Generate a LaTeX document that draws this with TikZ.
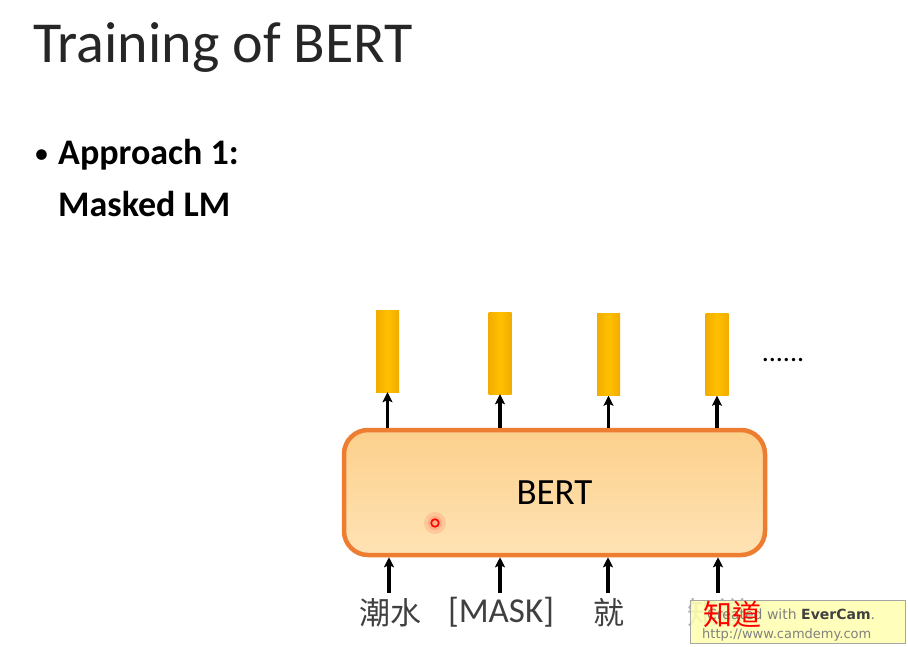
\documentclass[tikz,border=0pt]{standalone}
\usepackage{fontspec}
\setmainfont{Carlito}
\newfontfamily\cjk{Noto Sans CJK TC}
\newfontfamily\wmfont{DejaVu Sans}
\usetikzlibrary{arrows.meta}
\definecolor{barY}{HTML}{FFC000}
\definecolor{barD}{HTML}{F2AC00}
\definecolor{bertEdge}{HTML}{ED7D31}
\definecolor{bertTop}{HTML}{FCD08C}
\definecolor{bertBot}{HTML}{FFE3B5}
\definecolor{txtG}{HTML}{404040}
\definecolor{wmY}{HTML}{FFFFB0}
\tikzset{
  bar/.style={minimum width=23pt, minimum height=82pt, inner sep=0pt,
    left color=barD, right color=barD, middle color=barY},
  bertbox/.style={minimum width=421pt, minimum height=125pt, rounded corners=24pt,
    draw=bertEdge, line width=4.5pt, top color=bertTop, bottom color=bertBot,
    font=\fontsize{37}{38}\selectfont, text=black},
  myarrow/.style={draw=black, line width=3.4pt, -{Stealth[length=10pt,width=10pt,inset=2pt]}},
  lab/.style={text=txtG, inner sep=0pt, anchor=center},
}
\begin{document}
\begin{tikzpicture}[x=1pt,y=-1pt]
\useasboundingbox[fill=white] (0,0) rectangle (908,646);
% title
\node[anchor=base west, inner sep=0pt, text=black!85, font=\fontsize{58}{60}\selectfont] (title) at (33,62) {Training of BERT};
\node[anchor=base west, inner sep=0pt, font=\fontsize{30}{36}\selectfont] (bul) at (34,163) {•};
\node[anchor=base west, inner sep=0pt, font=\bfseries\fontsize{36}{38}\selectfont] (appr) at (58,164) {Approach 1:};
\node[anchor=base west, inner sep=0pt, font=\bfseries\fontsize{36}{38}\selectfont] (mlm) at (58,216) {Masked LM};
% bars
\node[bar] (o1) at (387.5,351) {};
\node[bar] (o2) at (500,353) {};
\node[bar] (o3) at (608.5,354.5) {};
\node[bar] (o4) at (717,354.5) {};
\node[inner sep=0pt, font=\fontsize{28}{28}\selectfont] (dots) at (783,360) {......};
% BERT
\node[bertbox] (bert) at (554.5,492.5) {BERT};
% red pointer
\fill[red, opacity=0.10] (435,523) circle (11);
\fill[red, opacity=0.12] (435,523) circle (7);
\draw[red, line width=1.6pt] (435,523) circle (3.8);
% inputs
\node[lab, font=\cjk\fontsize{31}{31}\selectfont] (i1) at (390,613) {潮水};
\node[lab, font=\fontsize{35}{35}\selectfont] (i2) at (501,612) {[MASK]};
\node[lab, font=\cjk\fontsize{31}{31}\selectfont] (i3) at (609,613) {就};
\node[lab, font=\cjk\fontsize{31}{31}\selectfont, text=gray!60] (i4) at (718,613) {知道};
\coordinate (s1) at (389,593);
\coordinate (s2) at (500,593);
\coordinate (s3) at (608,593);
\coordinate (s4) at (718,593);
\draw[myarrow] (s1) -- (s1 |- bert.south);
\draw[myarrow] (s2) -- (s2 |- bert.south);
\draw[myarrow] (s3) -- (s3 |- bert.south);
\draw[myarrow] (s4) -- (s4 |- bert.south);
\draw[myarrow] (o1.south |- bert.north) -- (o1.south);
\draw[myarrow] (o2.south |- bert.north) -- (o2.south);
\draw[myarrow] (o3.south |- bert.north) -- (o3.south);
\draw[myarrow] (o4.south |- bert.north) -- (o4.south);
% watermark
\node[draw=gray!70, fill=wmY, fill opacity=0.85, minimum width=215pt, minimum height=43pt, inner sep=0pt] (wm) at (797.5,621.5) {};
\node[anchor=base west, inner sep=0pt, text=gray, font=\wmfont\fontsize{14}{14}\selectfont] (wm1) at (707,619) {Created with \textcolor{black!75}{\bfseries EverCam}.};
\node[anchor=base west, inner sep=0pt, text=gray, font=\wmfont\fontsize{13}{13}\selectfont] (wm2) at (702,638) {http://www.camdemy.com};
\node[inner sep=0pt, text=red, font=\cjk\fontsize{29}{29}\selectfont] (red) at (732,614) {知道};
\end{tikzpicture}
\end{document}
